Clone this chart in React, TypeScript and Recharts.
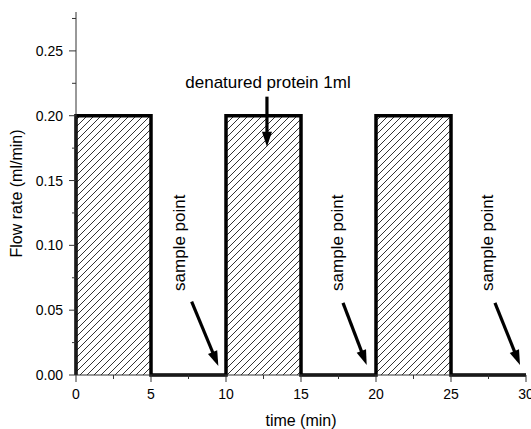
import {
  Area,
  ComposedChart,
  ReferenceDot,
  ReferenceLine,
  XAxis,
  YAxis,
} from "recharts";

/* ---- step profile of the pump ---- */
const times = [0, 0, 5, 5, 10, 10, 15, 15, 20, 20, 25, 25, 30];
const flow = [0, 0.2, 0.2, 0, 0, 0.2, 0.2, 0, 0, 0.2, 0.2, 0, 0];

const xTicks = [0, 2.5, 5, 7.5, 10, 12.5, 15, 17.5, 20, 22.5, 25, 27.5, 30];
const yTicks = [0, 0.025, 0.05, 0.075, 0.1, 0.125, 0.15, 0.175, 0.2, 0.225, 0.25, 0.275];

// annotation texts + arrows (data coords)
const sampleLabels = [
  { x: 7.27, y: 0.102 },
  { x: 17.8, y: 0.102 },
  { x: 27.8, y: 0.102 },
];
const arrows = [
  { from: { x: 7.71, y: 0.0566 }, to: { x: 9.49, y: 0.007 } },
  { from: { x: 17.8, y: 0.0556 }, to: { x: 19.38, y: 0.0077 } },
  { from: { x: 27.93, y: 0.0556 }, to: { x: 29.6, y: 0.0077 } },
  { from: { x: 12.73, y: 0.2147 }, to: { x: 12.73, y: 0.176 } },
];
const proteinLabel = { x: 12.8, y: 0.2216, text: "denatured protein 1ml" };

const data = times.map((t, i) => ({ x: t, flow: flow[i] }));

const FONT = "'Liberation Sans', Arial, sans-serif";
const INK = "#000";
const AXIS = "#333";

const isMajorY = (v: number) => Math.round(v * 1000) % 50 === 0;
const isMajorX = (v: number) => Math.round(v * 10) % 50 === 0;

function LeftTick({ x, y, payload }: any) {
  const major = isMajorY(payload.value);
  return (
    <g>
      <line x1={x - (major ? 7 : 4)} x2={x} y1={y} y2={y} stroke={AXIS} strokeWidth={1} />
      {major && (
        <text x={x - 13} y={y + 5} textAnchor="end" fontSize={14} fontFamily={FONT} fill={INK}>
          {payload.value.toFixed(2)}
        </text>
      )}
    </g>
  );
}

function BottomTick({ x, y, payload }: any) {
  const major = isMajorX(payload.value);
  return (
    <g>
      <line x1={x} x2={x} y1={y} y2={y + (major ? 7 : 4)} stroke={AXIS} strokeWidth={1} />
      {major && (
        <text x={x} y={y + 24} textAnchor="middle" fontSize={14} fontFamily={FONT} fill={INK}>
          {payload.value}
        </text>
      )}
    </g>
  );
}

const TopTick = ({ x, y }: any) => (
  <line x1={x} x2={x} y1={y} y2={y + 3} stroke={AXIS} strokeWidth={1} />
);
const RightTick = ({ x, y }: any) => (
  <line x1={x} x2={x - 3} y1={y} y2={y} stroke={AXIS} strokeWidth={1} />
);

function Arrow({ x1, y1, x2, y2 }: any) {
  const dx = x2 - x1;
  const dy = y2 - y1;
  const len = Math.hypot(dx, dy) || 1;
  const ux = dx / len;
  const uy = dy / len;
  const head = 15;
  const half = 5;
  const bx = x2 - ux * head;
  const by = y2 - uy * head;
  return (
    <g>
      <line x1={x1} y1={y1} x2={bx + ux} y2={by + uy} stroke={INK} strokeWidth={3.2} />
      <polygon
        points={`${x2},${y2} ${bx - uy * half},${by + ux * half} ${bx + uy * half},${by - ux * half}`}
        fill={INK}
      />
    </g>
  );
}

const SampleText = ({ cx, cy }: any) => (
  <text
    x={cx}
    y={cy}
    transform={`rotate(-90 ${cx} ${cy})`}
    textAnchor="middle"
    fontSize={17}
    fontFamily={FONT}
    fill={INK}
  >
    sample point
  </text>
);

const ProteinText = ({ cx, cy }: any) => (
  <text x={cx} y={cy} textAnchor="middle" fontSize={17} fontFamily={FONT} fill={INK}>
    {proteinLabel.text}
  </text>
);

export default function App() {
  return (
    <div style={{ position: "absolute", left: 0, top: 0, background: "#fff" }}>
      <ComposedChart
        width={531}
        height={429}
        data={data}
        margin={{ top: 12, right: 5, left: 0, bottom: 0 }}
      >
        <defs>
          <pattern id="hatch" patternUnits="userSpaceOnUse" width={7} height={7}>
            <path d="M-1,1 l2,-2 M0,7 l7,-7 M6,8 l2,-2" stroke={INK} strokeWidth={0.8} />
          </pattern>
        </defs>
        <XAxis
          dataKey="x"
          type="number"
          domain={[0, 30]}
          ticks={xTicks}
          interval={0}
          height={54}
          tickSize={0}
          tickMargin={0}
          tickLine={false}
          tick={<BottomTick />}
          axisLine={{ stroke: AXIS }}
          label={{
            value: "time (min)",
            position: "insideBottom",
            offset: 3,
            fontSize: 16,
            fontFamily: FONT,
            fill: INK,
          }}
        />
        <XAxis
          xAxisId="top"
          dataKey="x"
          orientation="top"
          type="number"
          domain={[0, 30]}
          ticks={xTicks}
          interval={0}
          height={0}
          tickSize={0}
          tickMargin={0}
          tickLine={false}
          tick={<TopTick />}
          axisLine={{ stroke: AXIS }}
        />
        <YAxis
          type="number"
          domain={[0, 0.28]}
          ticks={yTicks}
          interval={0}
          width={76}
          tickSize={0}
          tickMargin={0}
          tickLine={false}
          tick={<LeftTick />}
          axisLine={{ stroke: AXIS }}
          label={{
            value: "Flow rate (ml/min)",
            angle: -90,
            position: "insideLeft",
            offset: 16,
            style: { textAnchor: "middle" },
            fontSize: 16,
            fontFamily: FONT,
            fill: INK,
          }}
        />
        <YAxis
          yAxisId="right"
          orientation="right"
          type="number"
          domain={[0, 0.28]}
          ticks={yTicks}
          interval={0}
          width={0}
          tickSize={0}
          tickMargin={0}
          tickLine={false}
          tick={<RightTick />}
          axisLine={{ stroke: AXIS }}
        />
        <Area
          type="linear"
          dataKey="flow"
          stroke={INK}
          strokeWidth={3.5}
          strokeLinejoin="miter"
          fill="url(#hatch)"
          fillOpacity={1}
          dot={false}
          activeDot={false}
          isAnimationActive={false}
        />
        {arrows.map((a, i) => (
          <ReferenceLine
            key={`ar${i}`}
            segment={[a.from, a.to]}
            stroke={INK}
            shape={(p: any) => <Arrow {...p} />}
          />
        ))}
        {sampleLabels.map((s, i) => (
          <ReferenceDot key={`sp${i}`} x={s.x} y={s.y} r={0} shape={(p: any) => <SampleText {...p} />} />
        ))}
        <ReferenceDot
          x={proteinLabel.x}
          y={proteinLabel.y}
          r={0}
          shape={(p: any) => <ProteinText {...p} />}
        />
      </ComposedChart>
    </div>
  );
}
